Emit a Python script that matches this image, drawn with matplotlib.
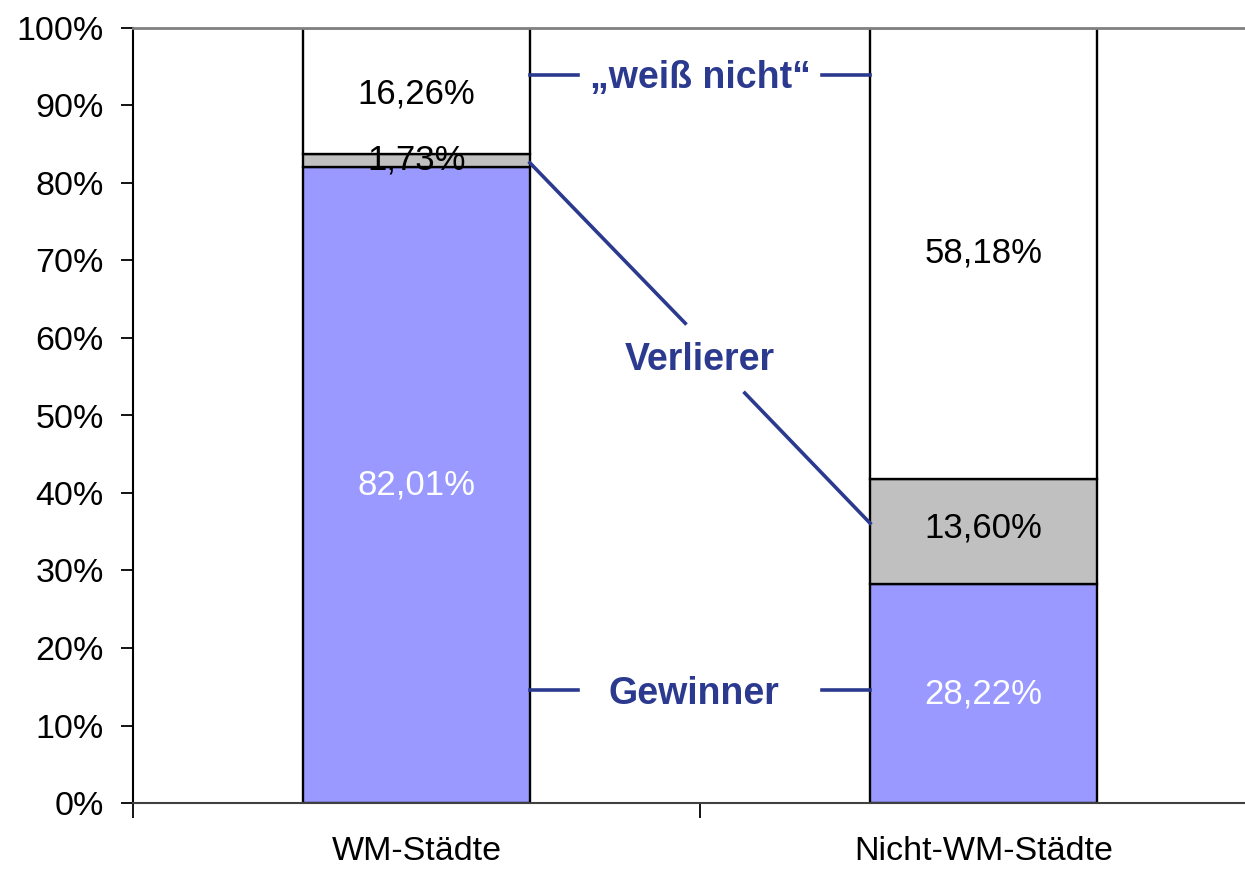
import matplotlib
matplotlib.use("Agg")
import matplotlib.pyplot as plt

categories = ["WM-Städte", "Nicht-WM-Städte"]
gewinner = [82.01, 28.22]
verlierer = [1.73, 13.60]
weiss_nicht = [16.26, 58.18]
gew_labels = ["82,01%", "28,22%"]
ver_labels = ["1,73%", "13,60%"]
wn_labels = ["16,26%", "58,18%"]
yticks = list(range(0, 101, 10))

plt.rcParams['font.family'] = ['Liberation Sans', 'DejaVu Sans']
fig = plt.figure(figsize=(12.45, 8.72), dpi=100)
ax = fig.add_axes([133/1245, 69/872, 1134/1245, 775/872])

x = [0.5, 1.5]
w = 0.4
blue = '#9999FF'
gray = '#C0C0C0'
txtblue = '#2B3A8E'
ax.bar(x, gewinner, w, color=blue, edgecolor='black', linewidth=1.7, zorder=2)
ax.bar(x, verlierer, w, bottom=gewinner, color=gray, edgecolor='black', linewidth=1.7, zorder=2)
b2 = [g + v for g, v in zip(gewinner, verlierer)]
ax.bar(x, weiss_nicht, w, bottom=b2, color='white', edgecolor='black', linewidth=1.7, zorder=2)

fs = 25
bfs = 27
for i in range(2):
    ax.text(x[i], gewinner[i] / 2, gew_labels[i], ha='center', va='center', color='white', fontsize=fs, zorder=3)
    ax.text(x[i], b2[i] + weiss_nicht[i] / 2 - (0.4 if i == 0 else 0), wn_labels[i], ha='center', va='center', color='black', fontsize=fs, zorder=3)
ax.text(x[0], 83.0, ver_labels[0], ha='center', va='center', color='black', fontsize=fs, zorder=3)
ax.text(x[1], gewinner[1] + verlierer[1] / 2 + 0.4, ver_labels[1], ha='center', va='center', color='black', fontsize=fs, zorder=3)

# annotation connectors
lw = 2.6
ax.plot([0.7, 0.785], [93.9, 93.9], color=txtblue, lw=lw, zorder=4)
ax.plot([1.215, 1.3], [93.9, 93.9], color=txtblue, lw=lw, zorder=4)
ax.text(1.0, 93.6, "„weiß nicht“", ha='center', va='center', color=txtblue, fontsize=bfs, fontweight='bold')
ax.plot([0.7, 0.974], [82.6, 61.9], color=txtblue, lw=lw, zorder=4)
ax.plot([1.079, 1.3], [52.9, 36.1], color=txtblue, lw=lw, zorder=4)
ax.text(1.0, 57.1, "Verlierer", ha='center', va='center', color=txtblue, fontsize=bfs, fontweight='bold')
ax.plot([0.7, 0.785], [14.6, 14.6], color=txtblue, lw=lw, zorder=4)
ax.plot([1.215, 1.3], [14.6, 14.6], color=txtblue, lw=lw, zorder=4)
ax.text(0.99, 14.1, "Gewinner", ha='center', va='center', color=txtblue, fontsize=bfs, fontweight='bold')

ax.set_xlim(0, 2)
ax.set_ylim(0, 100)
ax.set_yticks(yticks)
ax.set_yticklabels([f"{t}%" for t in yticks], fontsize=fs - 0.5)
ax.tick_params(axis='y', direction='out', length=9, width=1.3, pad=12)
ax.set_xticks([0, 1, 2])
ax.set_xticklabels([])
ax.tick_params(axis='x', which='major', direction='out', length=11, width=1.3)
ax.set_xticks(x, minor=True)
ax.set_xticklabels(categories, minor=True, fontsize=fs - 0.5)
ax.tick_params(axis='x', which='minor', length=0, pad=24)

ax.spines['right'].set_visible(False)
ax.spines['top'].set_color('#808080')
ax.spines['top'].set_linewidth(2.0)
ax.spines['left'].set_linewidth(1.5)
ax.spines['bottom'].set_color('#404040')
ax.spines['bottom'].set_linewidth(1.5)

fig.savefig("out.png", dpi=100)
